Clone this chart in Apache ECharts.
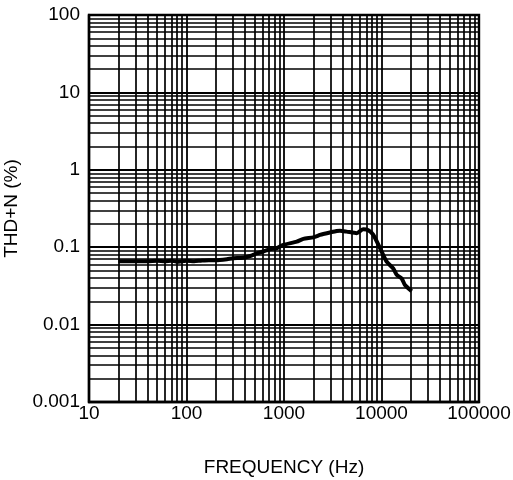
<!DOCTYPE html>
<html>
<head>
<meta charset="utf-8">
<script src="https://cdn.jsdelivr.net/npm/echarts@6/dist/echarts.min.js"></script>
<style>html,body{margin:0;padding:0;background:#fff}#c{width:513px;height:480px}</style>
</head>
<body>
<div id="c"></div>
<script>
var freq = [20,30,40,50,60,70,80,100,120,140,170,200,260,300,380,450,525,614,718,841,984,1350,1580,2000,2340,2530,3470,3750,4390,5570,6500,7330,8250,9660,11300,13200,14300,16100,17400,20400];
var thd  = [0.066,0.066,0.066,0.067,0.066,0.067,0.065,0.067,0.066,0.067,0.068,0.068,0.070,0.072,0.073,0.077,0.083,0.088,0.094,0.097,0.107,0.118,0.128,0.134,0.144,0.148,0.162,0.163,0.159,0.152,0.170,0.166,0.144,0.097,0.065,0.053,0.044,0.0395,0.0325,0.027];
var xDecades = [10,100,1000,10000,100000];
var yDecades = [0.001,0.01,0.1,1,10,100];
var multiples = [2,3,4,5,6,7,8,9];

var gridLines = [];
xDecades.slice(0,-1).forEach(function(d){ multiples.forEach(function(m){ gridLines.push({xAxis: d*m}); }); });
yDecades.slice(0,-1).forEach(function(d){ multiples.forEach(function(m){ gridLines.push({yAxis: +(d*m).toPrecision(3)}); }); });

var font = 'Liberation Sans, Arial, sans-serif';
var chart = echarts.init(document.getElementById('c'));
chart.setOption({
  animation: false,
  grid: {left: 89, right: 34, top: 15, bottom: 78, show: true, borderColor: '#000', borderWidth: 2.4, outerBoundsMode: 'none', containLabel: false},
  xAxis: {
    type: 'log', logBase: 10, min: 10, max: 100000,
    name: 'FREQUENCY (Hz)', nameLocation: 'middle', nameGap: 56,
    nameTextStyle: {fontFamily: font, fontSize: 19, color: '#000'},
    axisLine: {show: true, lineStyle: {color: '#000', width: 2.4}},
    axisTick: {show: false},
    axisLabel: {fontFamily: font, fontSize: 19, color: '#000', margin: 2, formatter: function(v){ return String(Math.round(v)); }},
    splitLine: {show: true, lineStyle: {color: '#000', width: 1.8}}
  },
  yAxis: {
    type: 'log', logBase: 10, min: 0.001, max: 100,
    name: 'THD+N (%)', nameLocation: 'middle', nameGap: 61,
    nameTextStyle: {fontFamily: font, fontSize: 19, color: '#000'},
    axisLine: {show: true, lineStyle: {color: '#000', width: 2.4}},
    axisTick: {show: false},
    axisLabel: {fontFamily: font, fontSize: 19, color: '#000', margin: 9, formatter: function(v){ return String(+v.toPrecision(3)); }},
    splitLine: {show: true, lineStyle: {color: '#000', width: 1.8}}
  },
  series: [{
    type: 'line',
    data: freq.map(function(f,i){ return [f, thd[i]]; }),
    showSymbol: false,
    smooth: 0.2,
    lineStyle: {color: '#000', width: 4},
    markLine: {
      silent: true, symbol: 'none', label: {show: false}, precision: 8,
      lineStyle: {color: '#000', width: 1.7, type: 'solid'},
      data: gridLines
    },
    z: 5
  }]
});
</script>
</body>
</html>
